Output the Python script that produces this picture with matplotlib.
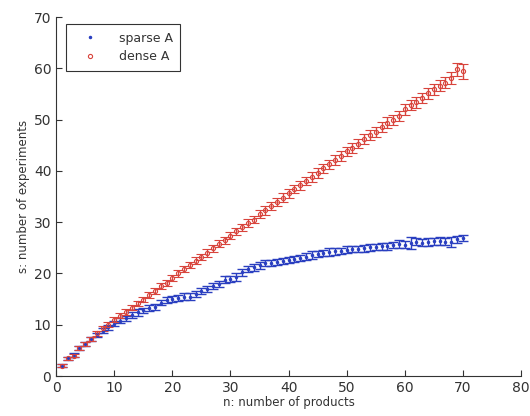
import matplotlib.pyplot as plt
from matplotlib.lines import Line2D

n = list(range(1, 71))

sparse_A = [2.0, 3.5, 4.1, 5.5, 6.3, 7.2, 8.0, 8.8, 9.5, 10.2,
            10.8, 11.3, 11.9, 12.4, 12.8, 13.2, 13.5, 14.3, 14.8, 15.0,
            15.3, 15.5, 15.5, 16.0, 16.6, 17.0, 17.5, 18.0, 18.8, 19.0,
            19.3, 20.2, 20.8, 21.2, 21.6, 22.0, 22.1, 22.3, 22.5, 22.6,
            22.8, 23.0, 23.3, 23.6, 23.8, 24.0, 24.2, 24.3, 24.4, 24.6,
            24.7, 24.7, 24.9, 25.1, 25.2, 25.3, 25.3, 25.6, 25.7, 25.6,
            25.9, 26.2, 26.0, 26.1, 26.3, 26.4, 26.2, 26.1, 26.7, 27.0]
sparse_err = [0.3, 0.3, 0.3, 0.4, 0.4, 0.4, 0.4, 0.5, 0.5, 0.5,
              0.5, 0.5, 0.5, 0.6, 0.5, 0.6, 0.6, 0.5, 0.6, 0.6,
              0.6, 0.6, 0.6, 0.6, 0.6, 0.6, 0.6, 0.6, 0.7, 0.6,
              0.8, 0.6, 0.6, 0.7, 0.7, 0.6, 0.6, 0.6, 0.6, 0.6,
              0.6, 0.6, 0.7, 0.8, 0.6, 0.6, 0.7, 0.6, 0.6, 0.7,
              0.6, 0.6, 0.7, 0.7, 0.6, 0.7, 0.7, 0.6, 0.8, 0.7,
              1.2, 0.7, 0.7, 0.8, 0.7, 0.8, 0.7, 1.0, 0.7, 0.6]

dense_A = [2.0, 3.5, 4.0, 5.5, 6.3, 7.3, 8.3, 9.3, 10.0, 11.0,
           11.8, 12.5, 13.3, 14.2, 14.9, 15.8, 16.6, 17.5, 18.2, 19.2,
           20.0, 20.8, 21.6, 22.5, 23.2, 24.0, 24.9, 25.8, 26.5, 27.4,
           28.2, 29.0, 29.8, 30.5, 31.6, 32.3, 33.1, 34.0, 34.8, 35.6,
           36.4, 37.2, 38.0, 38.8, 39.6, 40.5, 41.3, 42.1, 42.9, 43.8,
           44.5, 45.3, 46.2, 47.0, 47.6, 48.5, 49.4, 50.0, 50.7, 52.0,
           52.8, 53.4, 54.2, 55.1, 55.9, 56.6, 57.2, 58.1, 59.8, 59.4]
dense_err = [0.3, 0.3, 0.3, 0.4, 0.4, 0.4, 0.4, 0.5, 0.5, 0.5,
             0.5, 0.5, 0.5, 0.5, 0.5, 0.6, 0.6, 0.6, 0.6, 0.6,
             0.6, 0.6, 0.6, 0.7, 0.6, 0.7, 0.7, 0.7, 0.7, 0.7,
             0.7, 0.7, 0.8, 0.7, 0.8, 0.8, 0.8, 0.8, 0.8, 0.8,
             0.8, 0.9, 0.8, 0.9, 0.9, 0.9, 0.9, 1.0, 0.9, 0.9,
             1.0, 0.9, 1.0, 1.0, 1.0, 1.0, 1.1, 1.0, 1.0, 1.0,
             1.0, 1.1, 1.0, 1.1, 1.1, 1.1, 1.1, 1.2, 1.3, 1.5]

blue = "#2a3fc0"
red = "#d8443c"

fig = plt.figure(figsize=(5.3, 4.16), dpi=100)
ax = fig.add_axes([0.106, 0.096, 0.877, 0.863])

ax.errorbar(n, sparse_A, yerr=sparse_err, fmt=".", color=blue, ms=3,
            elinewidth=1.0, capsize=3.5, capthick=1.0)
ax.errorbar(n, dense_A, yerr=dense_err, fmt="o", color=red, mfc="none", ms=3,
            mew=0.8, elinewidth=1.0, capsize=3.5, capthick=1.0)

ax.set_xlim(0, 80)
ax.set_ylim(0, 70)
ax.set_xticks(range(0, 81, 10))
ax.set_yticks(range(0, 71, 10))
ax.spines["top"].set_visible(False)
ax.spines["right"].set_visible(False)
ax.tick_params(direction="in", length=4, labelsize=10, colors="#333333")
for s in ("left", "bottom"):
    ax.spines[s].set_color("#333333")

ax.set_xlabel("n: number of products", fontsize=8.5, color="#333333", labelpad=1)
ax.set_ylabel("s: number of experiments", fontsize=8.5, color="#333333", labelpad=3)

handles = [
    Line2D([], [], ls="none", marker=".", ms=3, color=blue),
    Line2D([], [], ls="none", marker="o", ms=3, mfc="none", mew=0.8, color=red),
]
leg = ax.legend(handles, ["sparse A", "dense A"], loc="upper left", fontsize=9,
                frameon=True, fancybox=False, edgecolor="black",
                handlelength=2.6, handletextpad=1.0, borderpad=0.6,
                labelspacing=0.45, bbox_to_anchor=(0.008, 0.998))
leg.get_frame().set_linewidth(0.8)
for t in leg.get_texts():
    t.set_color("#333333")

fig.savefig("out.png", dpi=100)
